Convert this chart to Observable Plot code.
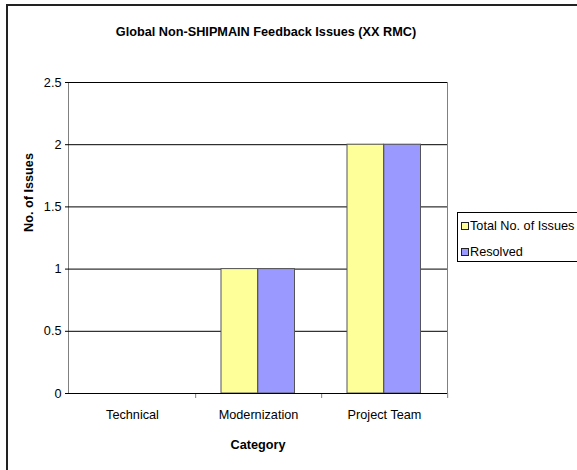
<!DOCTYPE html>
<html>
<head>
<meta charset="utf-8">
<script src="https://cdn.jsdelivr.net/npm/d3@7"></script>
<script src="https://cdn.jsdelivr.net/npm/@observablehq/plot@0.6"></script>
<style>
  html, body { margin: 0; padding: 0; background: #fff; overflow: hidden; }
  #wrap { position: relative; width: 577px; height: 470px; overflow: hidden; font-family: "Liberation Sans", Arial, sans-serif; }
  #border { position: absolute; left: 6px; top: 4px; width: 620px; height: 520px; border: 2px solid #222; box-sizing: border-box; }
  #chart { position: absolute; left: 0; top: 0; }
  #legend { position: absolute; left: 457px; top: 212px; width: 140px; height: 50px; border: 1px solid #000; background: #fff; box-sizing: border-box; font-size: 12.7px; }
  .item { position: absolute; left: 3px; height: 14px; line-height: 14px; white-space: nowrap; }
  .sw { display: inline-block; width: 6px; height: 6px; border: 1px solid #222; margin-right: 1px; vertical-align: 0px; }
</style>
</head>
<body>
<div id="wrap">
  <div id="border"></div>
  <div id="chart"></div>
  <div id="legend"></div>
</div>
<script>
const categories = ["Technical", "Modernization", "Project Team"];
const totalIssues = [0, 1, 2];
const resolvedIssues = [0, 1, 2];
const seriesNames = ["Total No. of Issues", "Resolved"];
const seriesColors = ["#FFFF99", "#9999FF"];
const yTicks = [0, 0.5, 1, 1.5, 2, 2.5];
const titleText = "Global Non-SHIPMAIN Feedback Issues (XX RMC)";
const xLabel = "Category";
const yLabel = "No. of Issues";

const bandHalf = (577 - 68 - 130) / categories.length / 2;
const fs = 12.7;

const chart = Plot.plot({
  width: 577,
  height: 470,
  marginLeft: 68,
  marginRight: 130,
  marginTop: 82,
  marginBottom: 77,
  style: { fontFamily: "'Liberation Sans', Arial, sans-serif", fontSize: fs + "px", color: "black", background: "transparent", overflow: "visible" },
  x: { domain: categories, padding: 0, label: null },
  y: { domain: [0, 2.5], label: null, line: true, ticks: yTicks, tickFormat: d => String(d), tickSize: 3, tickPadding: 4 },
  marks: [
    Plot.frame({ stroke: "#808080" }),
    Plot.ruleY(yTicks, { stroke: "black" }),
    Plot.barY(categories, { x: c => c, y: (c, i) => totalIssues[i], fill: seriesColors[0], stroke: "#555", insetLeft: 26, insetRight: 63.5 }),
    Plot.barY(categories, { x: c => c, y: (c, i) => resolvedIssues[i], fill: seriesColors[1], stroke: "#555", insetLeft: 62.8, insetRight: 26.5 }),
    Plot.axisX({ tickSize: 0, tickPadding: 16, label: null, fontSize: fs }),
    Plot.axisX({ tickSize: 5, text: null, label: null, dx: bandHalf, stroke: "#808080" }),
    Plot.ruleY([0], { stroke: "black" }),
    Plot.text([titleText], { frameAnchor: "top", dx: 8, dy: -51, lineAnchor: "middle", fontWeight: "bold", fontSize: fs }),
    Plot.text([xLabel], { frameAnchor: "bottom", dy: 51, lineAnchor: "middle", fontWeight: "bold", fontSize: fs }),
    Plot.text([yLabel], { frameAnchor: "left", dx: -40, dy: -6, rotate: -90, lineAnchor: "middle", fontWeight: "bold", fontSize: fs })
  ]
});
document.getElementById("chart").appendChild(chart);

const legend = document.getElementById("legend");
seriesNames.forEach((name, i) => {
  const item = document.createElement("div");
  item.className = "item";
  item.style.top = (6 + i * 26) + "px";
  const sw = document.createElement("span");
  sw.className = "sw";
  sw.style.background = seriesColors[i];
  item.appendChild(sw);
  item.appendChild(document.createTextNode(name));
  legend.appendChild(item);
});
</script>
</body>
</html>
